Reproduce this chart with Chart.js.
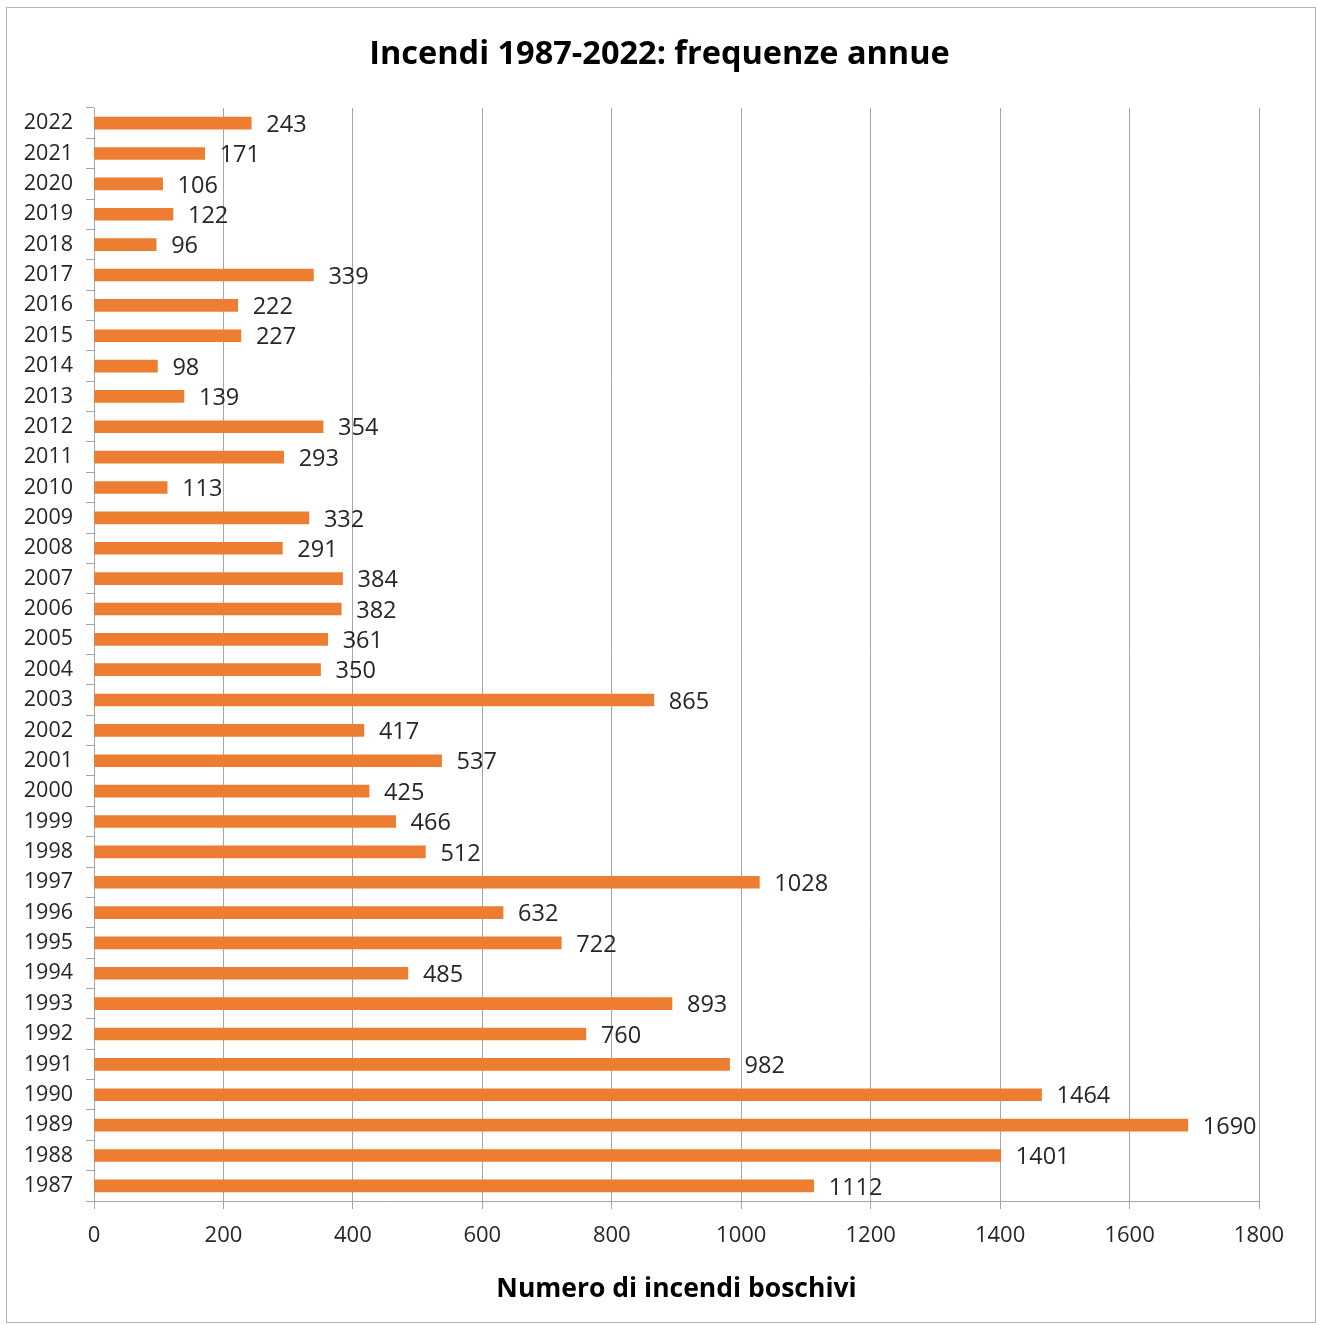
<!DOCTYPE html>
<html>
<head>
<meta charset="utf-8">
<script src="https://cdn.jsdelivr.net/npm/chart.js@4"></script>
<style>
  body { margin: 0; background: #fff; }
  canvas { display: block; }
</style>
</head>
<body>
<canvas id="fireChart" width="1319" height="1325"></canvas>
<script>
const years = ['1987', '1988', '1989', '1990', '1991', '1992', '1993', '1994', '1995', '1996', '1997', '1998',
               '1999', '2000', '2001', '2002', '2003', '2004', '2005', '2006', '2007', '2008', '2009', '2010',
               '2011', '2012', '2013', '2014', '2015', '2016', '2017', '2018', '2019', '2020', '2021', '2022'];
const fires = [1112, 1401, 1690, 1464, 982, 760, 893, 485, 722, 632, 1028, 512,
               466, 425, 537, 417, 865, 350, 361, 382, 384, 291, 332, 113,
               293, 354, 139, 98, 227, 222, 339, 96, 122, 106, 171, 243];
const xTicks = [0, 200, 400, 600, 800, 1000, 1200, 1400, 1600, 1800];
const chartTitle = 'Incendi 1987-2022: frequenze annue';

const FONT = "'Open Sans', 'DejaVu Sans', sans-serif";
const gridGray = '#a6a6a6';
const textColor = '#262626';

// white background, frame and title centred on the whole picture
const framePlugin = {
    id: 'frame',
    beforeDraw: function(chart) {
        const c = chart.ctx;
        c.save();
        c.fillStyle = '#fff';
        c.fillRect(0, 0, chart.width, chart.height);
        c.strokeStyle = '#b4b4b4';
        c.lineWidth = 1;
        c.strokeRect(6.5, 7.5, 1309, 1315);
        c.fillStyle = '#000';
        c.font = 'bold 32.5px ' + FONT;
        c.textAlign = 'center';
        c.textBaseline = 'middle';
        c.fillText(chartTitle, chart.width / 2, 55);
        c.restore();
    }
};

// value labels right of each bar
const valueLabels = {
    id: 'valueLabels',
    afterDatasetsDraw: function(chart) {
        const c = chart.ctx;
        const meta = chart.getDatasetMeta(0);
        c.save();
        c.font = '23.5px ' + FONT;
        c.fillStyle = textColor;
        c.textAlign = 'left';
        c.textBaseline = 'middle';
        meta.data.forEach(function(bar, i) {
            c.fillText(String(chart.data.datasets[0].data[i]), bar.x + 15, bar.y + 2);
        });
        c.restore();
    }
};

const ctx = document.getElementById('fireChart').getContext('2d');
new Chart(ctx, {
    type: 'bar',
    data: {
        labels: years,
        datasets: [{
            label: 'Incendi',
            data: fires,
            backgroundColor: '#ED7D31',
            barThickness: 12
        }]
    },
    options: {
        indexAxis: 'y',
        responsive: false,
        devicePixelRatio: 1,
        animation: false,
        layout: { padding: { left: 0, right: 60, top: 108, bottom: 0 } },
        plugins: {
            legend: { display: false },
            tooltip: { enabled: false },
            title: { display: false }
        },
        scales: {
            x: {
                min: 0,
                max: 1800,
                afterBuildTicks: function(scale) {
                    scale.ticks = xTicks.map(function(v) { return { value: v }; });
                },
                afterFit: function(scale) { scale.height = 124; },
                grid: { color: gridGray, lineWidth: 1, tickLength: 8, drawTicks: true },
                border: { color: gridGray, width: 1 },
                ticks: {
                    color: textColor, font: { family: FONT, size: 22 }, padding: 14, maxRotation: 0,
                    callback: function(v) { return String(v); }
                },
                title: {
                    display: true,
                    text: 'Numero di incendi boschivi',
                    color: '#000',
                    font: { family: FONT, size: 26.5, weight: 'bold', lineHeight: 1.2 },
                    padding: { top: 0, bottom: 20 }
                }
            },
            y: {
                reverse: true,
                afterFit: function(scale) { scale.width = 94; },
                grid: { drawOnChartArea: false, drawTicks: true, tickLength: 8, color: gridGray, offset: true },
                border: { color: gridGray, width: 1 },
                ticks: { color: textColor, font: { family: FONT, size: 21.5 }, padding: 13, autoSkip: false }
            }
        }
    },
    plugins: [framePlugin, valueLabels]
});
</script>
</body>
</html>
